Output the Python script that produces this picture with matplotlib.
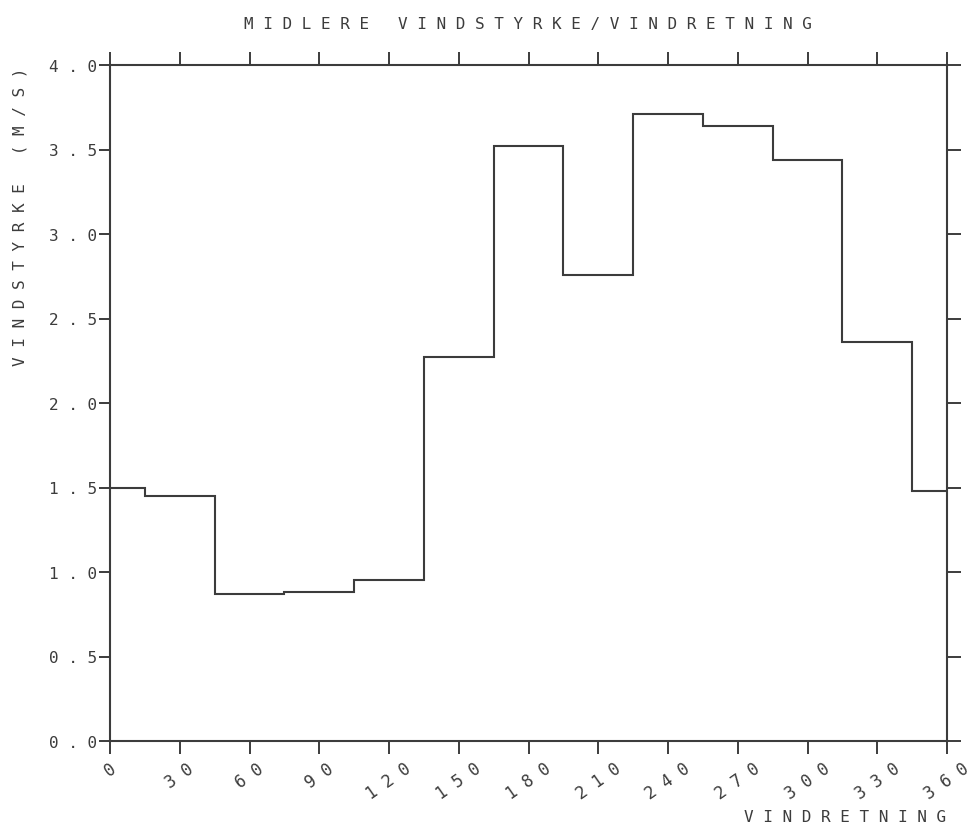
import matplotlib
matplotlib.use("Agg")
import matplotlib.pyplot as plt
from matplotlib.ticker import FuncFormatter

# retning (grader) og midlere vindstyrke (m/s) per sektor
edges = [0, 15, 45, 75, 105, 135, 165, 195, 225, 255, 285, 315, 345, 360]
styrke = [1.50, 1.45, 0.87, 0.88, 0.95, 2.27, 3.52, 2.76, 3.71, 3.64, 3.44, 2.36, 1.48]

xticks = list(range(0, 361, 30))
yticks = [0.0, 0.5, 1.0, 1.5, 2.0, 2.5, 3.0, 3.5, 4.0]

title = "MIDLERE VINDSTYRKE/VINDRETNING"
xlabel = "VINDRETNING"
ylabel = "VINDSTYRKE (M/S)"

ink = "#3c3c3c"
font = "DejaVu Sans Mono"
fs = 11.5


def spaced(s):
    # plotter-lignende sperret skrift
    return " ".join(s)


W, H = 972, 837
fig = plt.figure(figsize=(W / 100, H / 100), dpi=100)
ax = fig.add_axes([110 / W, 1 - 742 / H, (947 - 110) / W, (742 - 66) / H])

ax.stairs(styrke, edges, baseline=None, color=ink, linewidth=1.5)

ax.set_xlim(0, 360)
ax.set_ylim(0, 4)
ax.set_xticks(xticks)
ax.set_yticks(yticks)
ax.xaxis.set_major_formatter(FuncFormatter(lambda v, p: spaced(f"{v:.0f}")))
ax.yaxis.set_major_formatter(FuncFormatter(lambda v, p: spaced(f"{v:.1f}")))

for s in ax.spines.values():
    s.set_color(ink)
    s.set_linewidth(1.5)

ax.tick_params(axis="y", direction="out", length=8, width=1.4, color=ink,
               pad=1.5, labelsize=fs, labelcolor=ink)
ax.tick_params(axis="x", direction="out", length=9, width=1.4, color=ink,
               pad=4, labelsize=fs + 0.5, labelcolor=ink)
for lab in ax.get_yticklabels() + ax.get_xticklabels():
    lab.set_family(font)
for lab in ax.get_xticklabels():
    lab.set_rotation(35)
    lab.set_ha("center")
    lab.set_va("top")

top = ax.secondary_xaxis("top")
top.set_xticks(xticks)
top.tick_params(direction="out", length=9.5, width=1.4, color=ink, labeltop=False)
top.spines["top"].set_visible(False)

right = ax.secondary_yaxis("right")
right.set_yticks(yticks)
right.tick_params(direction="out", length=10, width=1.4, color=ink, labelright=False)
right.spines["right"].set_visible(False)

fig.text(528 / W, 1 - 24 / H, spaced(title), ha="center", va="center",
         family=font, fontsize=fs, color=ink)
fig.text(20 / W, 1 - 217 / H, spaced(ylabel), ha="center", va="center",
         rotation=90, family=font, fontsize=fs, color=ink)
fig.text(845 / W, 1 - 818 / H, spaced(xlabel), ha="center", va="center",
         family=font, fontsize=fs, color=ink)

fig.savefig("out.png", dpi=100, facecolor="white")
